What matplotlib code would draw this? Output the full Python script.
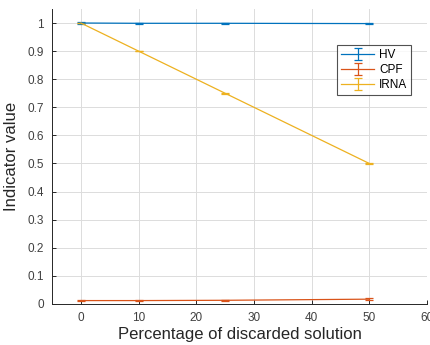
import matplotlib.pyplot as plt
import numpy as np

plt.rcParams['font.family'] = ['Liberation Sans', 'DejaVu Sans']

discarded = [0, 10, 25, 50]
hv = [1.0, 0.999, 0.999, 0.998]
hv_err = [0.002, 0.002, 0.002, 0.002]
cpf = [0.012, 0.012, 0.013, 0.017]
cpf_err = [0.002, 0.002, 0.002, 0.003]
irna = [1.0, 0.9, 0.75, 0.5]
irna_err = [0.001, 0.001, 0.001, 0.001]
labels = ['HV', 'CPF', 'IRNA']

colors = ['#0072BD', '#D95319', '#EDB120']

fig = plt.figure(figsize=(4.3, 3.45), dpi=100)
ax = fig.add_axes([0.121, 0.119, 0.872, 0.855])

for vals, errs, lab, c in zip([hv, cpf, irna], [hv_err, cpf_err, irna_err], labels, colors):
    ax.errorbar(discarded, vals, yerr=errs, color=c, label=lab, lw=0.9,
                elinewidth=0.9, capsize=3, capthick=0.9)

ax.set_xlim(-5, 60)
ax.set_ylim(0, 1.05)
ax.set_xticks(np.arange(0, 61, 10))
ax.set_yticks(np.arange(0, 1.01, 0.1))
ax.set_yticklabels(['0', '0.1', '0.2', '0.3', '0.4', '0.5', '0.6', '0.7', '0.8', '0.9', '1'])
ax.grid(True, color='#dcdcdc', lw=0.7)
ax.set_axisbelow(True)
for s in ['top', 'right']:
    ax.spines[s].set_visible(False)
for s in ['left', 'bottom']:
    ax.spines[s].set_color('#262626')
    ax.spines[s].set_linewidth(0.7)
ax.tick_params(direction='in', length=3, width=0.7, labelsize=8.5, colors='#262626',
               labelcolor='#404040', pad=6)
ax.set_xlabel('Percentage of discarded solution', fontsize=12, color='#262626', labelpad=2)
ax.set_ylabel('Indicator value', fontsize=12, color='#262626', labelpad=6)

leg = ax.legend(loc='upper left', bbox_to_anchor=(0.76, 0.878), fontsize=8.5,
                frameon=True, fancybox=False, edgecolor='#262626', borderpad=0.35,
                labelspacing=0.25, handlelength=2.8, handletextpad=0.4, borderaxespad=0)
leg.get_frame().set_linewidth(0.8)

fig.savefig('out.png', dpi=100)
